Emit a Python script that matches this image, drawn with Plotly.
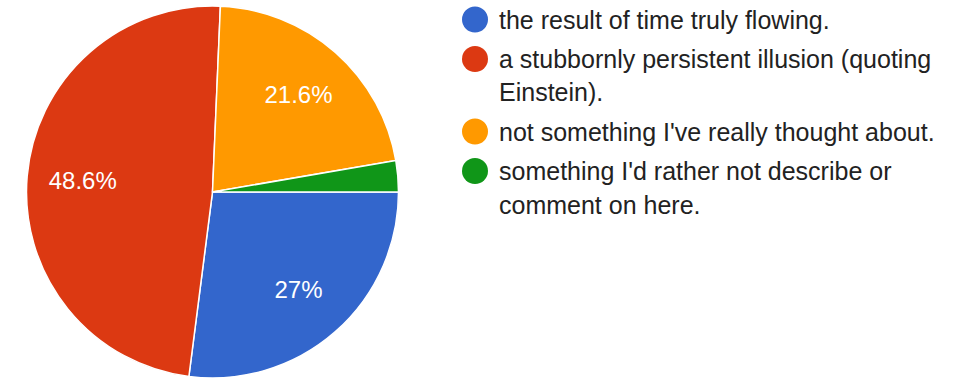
import plotly.graph_objects as go

# ---- data ----
categories = [
    "the result of time truly flowing.",
    "a stubbornly persistent illusion (quoting Einstein).",
    "not something I've really thought about.",
    "something I'd rather not describe or comment on here.",
]
legend_lines = [
    ["the result of time truly flowing."],
    ["a stubbornly persistent illusion (quoting", "Einstein)."],
    ["not something I've really thought about."],
    ["something I'd rather not describe or", "comment on here."],
]
counts = [10, 18, 8, 1]
colors = ["#3366CC", "#DC3912", "#FF9900", "#109618"]

W, H = 954, 378
FONT = "Liberation Sans, Arial, sans-serif"
total = sum(counts)
pct_text = []
for c in counts:
    p = round(c / total * 100, 1)
    pct_text.append(f"{p:g}%" if p >= 5 else "")

dom = dict(x=[26.5 / W, 398.5 / W], y=[0, 1 - 6 / H])

fig = go.Figure()
# the pie itself
fig.add_trace(go.Pie(
    labels=categories,
    values=counts,
    textinfo="none",
    marker=dict(colors=colors, line=dict(color="white", width=1.5)),
    sort=False,
    direction="clockwise",
    rotation=90,
    showlegend=False,
    hoverinfo="label+percent",
    domain=dom,
))
# transparent ring carrying the percentage labels (places them farther out)
fig.add_trace(go.Pie(
    labels=categories,
    values=counts,
    text=pct_text,
    textinfo="text",
    textposition="inside",
    insidetextorientation="horizontal",
    textfont=dict(family=FONT, size=24, color="white"),
    marker=dict(colors=["rgba(0,0,0,0)"] * len(counts), line=dict(width=0)),
    hole=0.4,
    sort=False,
    direction="clockwise",
    rotation=90,
    showlegend=False,
    hoverinfo="skip",
    domain=dom,
))

# ---- custom legend (round markers, wrapped text) ----
marker_y = [19.5, 59, 131.5, 171]
line_y = [[19.5], [59, 92.5], [131.5], [171, 205]]
shapes = []
annotations = []
r = 13
cx = 475
for i, col in enumerate(colors):
    cy = marker_y[i]
    shapes.append(dict(type="circle", xref="paper", yref="paper",
                       x0=(cx - r) / W, x1=(cx + r) / W,
                       y0=1 - (cy + r) / H, y1=1 - (cy - r) / H,
                       fillcolor=col, line=dict(width=0)))
    for txt, ly in zip(legend_lines[i], line_y[i]):
        annotations.append(dict(text=txt, xref="paper", yref="paper",
                                x=497 / W, y=1 - ly / H,
                                xanchor="left", yanchor="middle", showarrow=False,
                                font=dict(family=FONT, size=25, color="#222222")))

fig.update_layout(
    width=W, height=H,
    margin=dict(l=0, r=0, t=0, b=0),
    paper_bgcolor="white", plot_bgcolor="white",
    shapes=shapes, annotations=annotations,
    showlegend=False,
)

fig.write_html("out.html", config={"displayModeBar": False},
               post_script="document.body.style.margin='0';document.body.style.overflow='hidden';")
